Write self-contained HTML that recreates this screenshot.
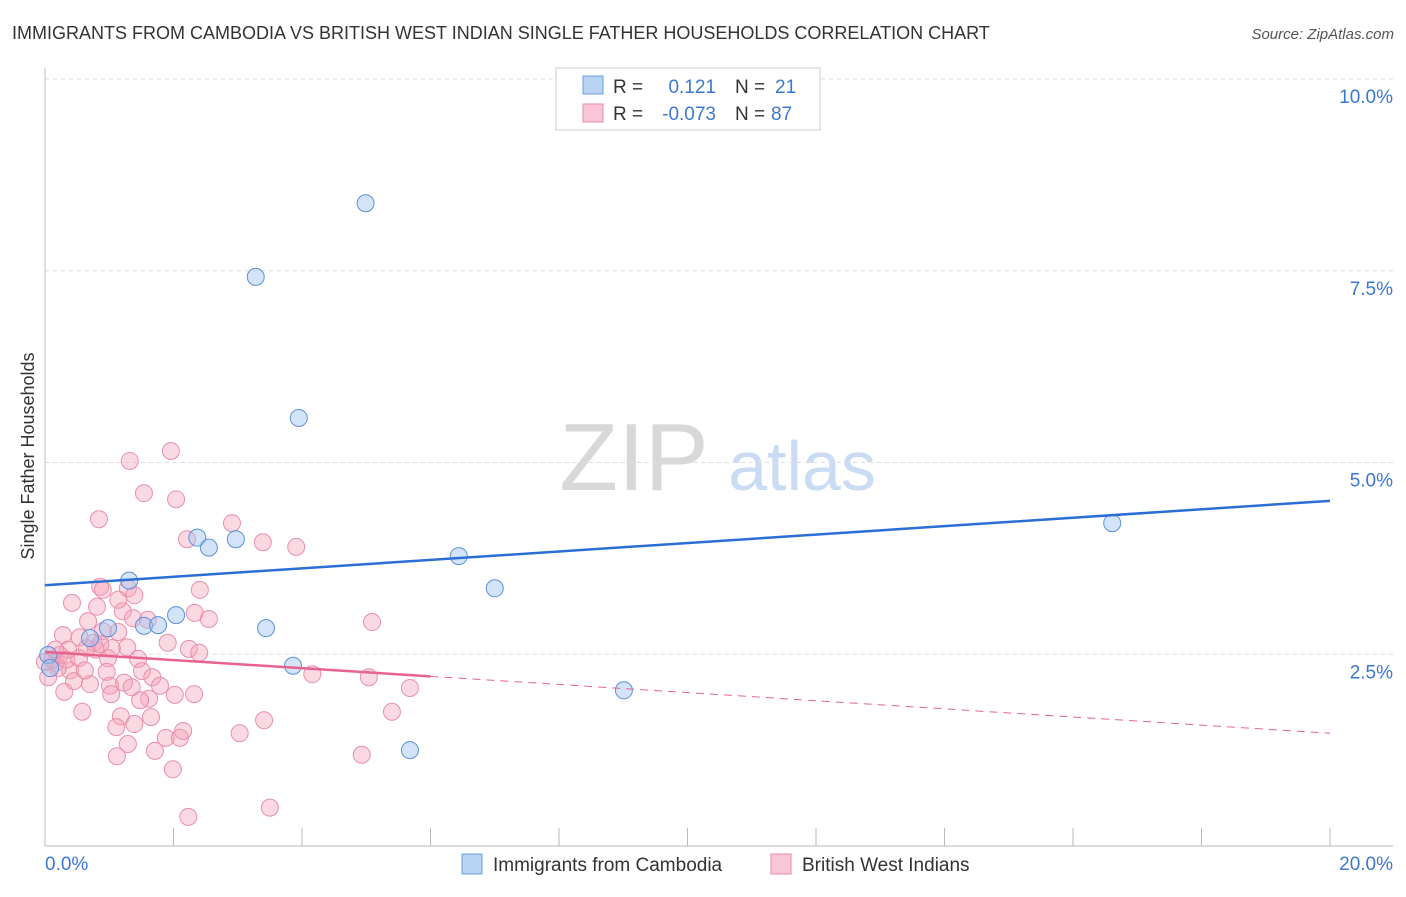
<!DOCTYPE html>
<html><head><meta charset="utf-8"><style>
body{margin:0;background:#fff;font-family:"Liberation Sans",sans-serif}
svg text{font-family:"Liberation Sans",sans-serif}
</style></head><body>
<svg id="c" width="1406" height="892">
<text x="12" y="39" font-size="18" fill="#333">IMMIGRANTS FROM CAMBODIA VS BRITISH WEST INDIAN SINGLE FATHER HOUSEHOLDS CORRELATION CHART</text>
<text x="1394" y="39" font-size="15" fill="#555" font-style="italic" text-anchor="end">Source: ZipAtlas.com</text>
<text x="634" y="490" font-size="96" fill="#d8d8d8" font-family="Liberation Serif" text-anchor="middle">ZIP</text>
<text x="802" y="490" font-size="70" fill="#c9dcf3" text-anchor="middle">atlas</text>
<text transform="translate(34,456) rotate(-90)" font-size="18" fill="#333" text-anchor="middle">Single Father Households</text>
<g id="grid"></g><g id="marks"></g>
<g>
<rect x="556" y="68" width="264" height="62" fill="#fff" stroke="#ccc"/>
<rect x="583" y="76" width="20" height="18" fill="#b9d3f3" stroke="#6a9de0"/>
<rect x="583" y="104" width="20" height="18" fill="#f9c6d5" stroke="#ea8aa8"/>
<text x="613" y="93" font-size="19" fill="#333">R =</text><text x="716" y="93" font-size="19" fill="#3b78d4" text-anchor="end">0.121</text>
<text x="735" y="93" font-size="19" fill="#333">N =</text><text x="775" y="93" font-size="19" fill="#3b78d4">21</text>
<text x="613" y="120" font-size="19" fill="#333">R =</text><text x="716" y="120" font-size="19" fill="#3b78d4" text-anchor="end">-0.073</text>
<text x="735" y="120" font-size="19" fill="#333">N =</text><text x="771" y="120" font-size="19" fill="#3b78d4">87</text>
</g>
<g>
<rect x="462" y="854" width="20" height="20" fill="#b9d3f3" stroke="#6a9de0"/>
<text x="493" y="871" font-size="19" fill="#333">Immigrants from Cambodia</text>
<rect x="771" y="854" width="20" height="20" fill="#f9c6d5" stroke="#ea8aa8"/>
<text x="802" y="871" font-size="19" fill="#333">British West Indians</text>
</g>
</svg>
<script>
const xTicks=[0,20];
const yTicks=[2.5,5,7.5,10];
const blueX=[4.99,3.28,3.95,2.37,2.55,2.97,6.44,1.31,7.00,2.04,0.98,1.54,1.76,3.44,3.86,9.01,5.68,16.61,0.05,0.70,0.08];
const blueY=[8.38,7.42,5.58,4.02,3.89,4.00,3.78,3.46,3.36,3.01,2.84,2.87,2.88,2.84,2.35,2.03,1.25,4.21,2.49,2.71,2.32];
const pinkX=[1.96,1.32,1.54,2.04,0.84,2.91,2.21,3.39,3.91,0.86,1.29,2.41,0.42,0.81,1.21,1.37,1.60,2.33,2.55,1.14,5.09,0.67,0.28,0.54,0.90,0.76,1.28,2.24,0.36,0.79,1.04,0.98,1.45,0.16,0.39,0.96,1.51,1.67,1.23,1.79,4.16,5.04,5.68,0.45,0.70,1.01,1.35,0.30,1.03,2.32,1.62,0.58,5.40,1.18,1.65,3.41,1.39,1.11,1.88,2.10,2.15,3.03,1.29,1.71,1.12,4.93,1.99,3.50,2.23,0.20,0.11,0.05,0.23,0.33,0.00,0.16,0.53,0.65,0.86,1.14,1.39,0.90,1.91,0.62,1.48,2.02,2.40];
const pinkY=[5.15,5.02,4.60,4.52,4.26,4.21,4.00,3.96,3.90,3.38,3.36,3.34,3.17,3.12,3.06,2.97,2.95,3.04,2.96,3.21,2.92,2.93,2.75,2.72,2.80,2.65,2.59,2.57,2.56,2.56,2.58,2.45,2.44,2.39,2.29,2.27,2.28,2.20,2.13,2.09,2.24,2.20,2.06,2.15,2.11,2.09,2.07,2.01,1.98,1.98,1.92,1.75,1.75,1.69,1.68,1.64,1.59,1.55,1.41,1.41,1.50,1.47,1.33,1.24,1.17,1.19,1.00,0.50,0.38,2.32,2.43,2.20,2.49,2.43,2.40,2.56,2.45,2.58,2.63,2.79,3.27,3.34,2.65,2.29,1.90,1.97,2.52];
const blueTrend=[3.40,4.50];
const pinkTrend=[2.53,1.47];
const pinkSolidEnd=6.0;
const NS='http://www.w3.org/2000/svg';
const X=v=>45+v/20*1285, Y=v=>846-v/10*767;
function mk(t,a,p){const e=document.createElementNS(NS,t);for(const k in a)e.setAttribute(k,a[k]);p.appendChild(e);return e;}
const g=document.getElementById('grid'),m=document.getElementById('marks');
yTicks.forEach(t=>{
 const l=mk('line',{x1:45,x2:1393,y1:Y(t),y2:Y(t),stroke:'#ddd','stroke-dasharray':'4,4'},g);
 
 
 const tx=mk('text',{x:1393,y:Y(t)+24,'font-size':19,fill:'#3b78d4','text-anchor':'end'},g);tx.textContent=t.toFixed(1)+'%';
 
 
});
const ax=mk('line',{x1:45,x2:45,y1:68,y2:846,stroke:'#bbb'},g);


const bx=mk('line',{x1:45,x2:1393,y1:846,y2:846,stroke:'#bbb'},g);


for(let i=1;i<=10;i++){const t=mk('line',{x1:X(i*2),x2:X(i*2),y1:828,y2:846,stroke:'#bbb'},g);
 
 }
xTicks.forEach((t,i)=>{const tx=mk('text',{x:i?1393:45,y:870,'font-size':19,fill:'#3b78d4','text-anchor':i?'end':'start'},g);tx.textContent=t.toFixed(1)+'%';
 
 });
pinkX.forEach((v,i)=>{const c=mk('circle',{cx:X(v),cy:Y(pinkY[i]),r:8.5,fill:'rgba(244,160,186,0.4)',stroke:'#e98fab','stroke-width':1},m);
 
 });
blueX.forEach((v,i)=>{const c=mk('circle',{cx:X(v),cy:Y(blueY[i]),r:8.5,fill:'rgba(160,196,240,0.45)',stroke:'#5b90dc','stroke-width':1},m);
 
 });
const bl=mk('line',{x1:X(0),y1:Y(blueTrend[0]),x2:X(20),y2:Y(blueTrend[1]),stroke:'#2b6fd6','stroke-width':2.5},m);


const pe=pinkTrend[0]+(pinkTrend[1]-pinkTrend[0])*pinkSolidEnd/20;
const pl=mk('line',{x1:X(0),y1:Y(pinkTrend[0]),x2:X(pinkSolidEnd),y2:Y(pe),stroke:'#e8628e','stroke-width':2.5},m);


const pd=mk('line',{x1:X(pinkSolidEnd),y1:Y(pe),x2:X(20),y2:Y(pinkTrend[1]),stroke:'#e8628e','stroke-width':1,'stroke-dasharray':'8,6'},m);


</script>
</body></html>
